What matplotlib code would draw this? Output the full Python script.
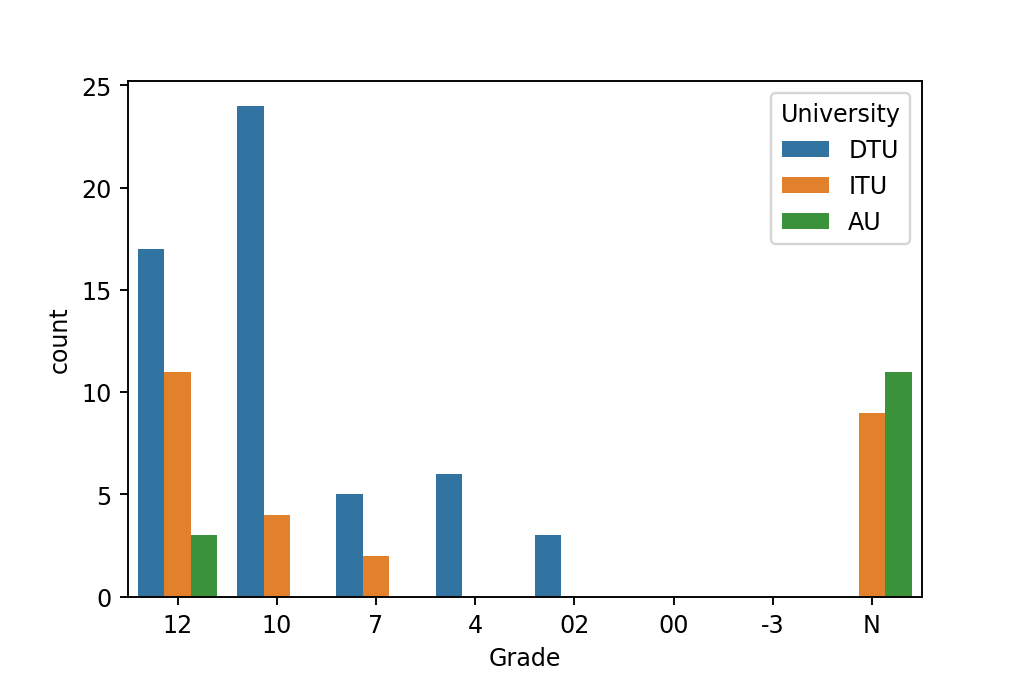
import matplotlib
matplotlib.use("Agg")
import matplotlib.pyplot as plt
import numpy as np

grades = ["12", "10", "7", "4", "02", "00", "-3", "N"]
universities = ["DTU", "ITU", "AU"]
dtu = [17, 24, 5, 6, 3, 0, 0, 0]
itu = [11, 4, 2, 0, 0, 0, 0, 9]
au = [3, 0, 0, 0, 0, 0, 0, 11]
series = [dtu, itu, au]
colors = ["#3274a1", "#e1812c", "#3a923a"]

fig, ax = plt.subplots(figsize=(6, 4), dpi=1024 / 6)
fig.subplots_adjust(left=0.125, right=0.9, top=0.88, bottom=0.125)

x = np.arange(len(grades))
w = 0.8 / 3
for i, (name, vals, c) in enumerate(zip(universities, series, colors)):
    ax.bar(x + (i - 1) * w, vals, width=w, color=c, label=name)

ax.set_xticks(x)
ax.set_xticklabels(grades)
ax.set_xlim(-0.5, len(grades) - 0.5)
ax.set_ylim(0, 25.2)
ax.set_xlabel("Grade")
ax.set_ylabel("count")
ax.legend(title="University", loc="upper right")

fig.savefig("out.png", dpi=1024 / 6)
